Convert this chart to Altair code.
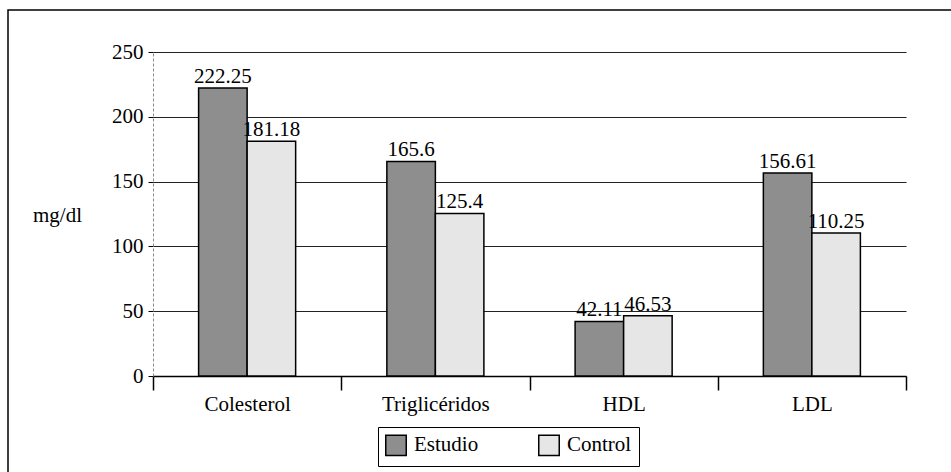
import altair as alt
import pandas as pd

categories = ["Colesterol", "Triglicéridos", "HDL", "LDL"]
series = ["Estudio", "Control"]
estudio = [222.25, 165.6, 42.11, 156.61]
control = [181.18, 125.4, 46.53, 110.25]
y_ticks = [0, 50, 100, 150, 200, 250]
colors = ["#8e8e8e", "#e6e6e6"]

rows = []
for c, e, k in zip(categories, estudio, control):
    rows.append({"cat": c, "serie": "Estudio", "val": e, "label": f"{e:g}"})
    rows.append({"cat": c, "serie": "Control", "val": k, "label": f"{k:g}"})
df = pd.DataFrame(rows)

W, H = 753, 324
FONT = "Liberation Serif"
FS = 21

x = alt.X(
    "cat:N", sort=categories, scale=alt.Scale(padding=0),
    axis=alt.Axis(title=None, tickBand="extent", tickSize=14, tickColor="black",
                  tickWidth=1.5, domainColor="black", domainWidth=1.5,
                  labelPadding=3, labelFont=FONT, labelFontSize=FS,
                  labelColor="black", labelAngle=0),
)
xo = alt.XOffset("serie:N", sort=series,
                 scale=alt.Scale(paddingInner=0, paddingOuter=0.94))
y = alt.Y(
    "val:Q", scale=alt.Scale(domain=[0, 250], nice=False),
    axis=alt.Axis(values=y_ticks, title="mg/dl", titleAngle=0, titleX=-96, titleY=163,
                  titleAlign="center", titleBaseline="middle", titleFont=FONT,
                  titleFontSize=FS, titleFontWeight="normal", titleColor="black",
                  grid=True, gridColor="#222222", gridWidth=1,
                  domainColor="#888888", domainDash=[3, 2],
                  tickColor="black", tickSize=5, labelPadding=5,
                  labelFont=FONT, labelFontSize=FS, labelColor="black"),
)

base = alt.Chart(df)
bars = base.mark_bar(stroke="black", strokeWidth=1.5).encode(
    x=x, xOffset=xo, y=y,
    color=alt.Color("serie:N", sort=series,
                    scale=alt.Scale(domain=series, range=colors),
                    legend=alt.Legend(title=None, orient="none", legendX=225, legendY=375,
                                      direction="horizontal", columns=2,
                                      strokeColor="black", padding=7,
                                      symbolType="square", symbolSize=420,
                                      symbolStrokeColor="black", symbolStrokeWidth=1.5,
                                      symbolOpacity=1, labelOffset=7, columnPadding=56,
                                      labelFont=FONT, labelFontSize=FS, labelColor="black")),
)
labels = base.mark_text(dy=-5, baseline="alphabetic", font=FONT, fontSize=FS,
                        color="black").encode(
    x=x, xOffset=xo, y=y, text="label:N"
)
frame = alt.Chart(alt.Data(values=[{"a": 1}])).mark_rect(
    fillOpacity=0, stroke="black", strokeWidth=1.5
).encode(x=alt.value(-145), x2=alt.value(900), y=alt.value(-42), y2=alt.value(500))

chart = alt.layer(frame, bars, labels).properties(
    width=W, height=H,
    padding={"left": 153, "top": 52, "right": 45, "bottom": 96},
    autosize="none", background="white",
).configure_view(stroke=None)

chart.save("out.html", embed_options={"renderer": "svg", "actions": False})
